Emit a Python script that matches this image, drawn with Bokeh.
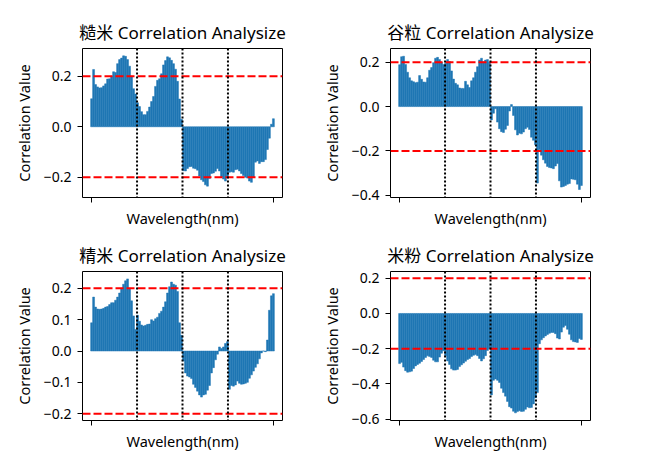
from bokeh.embed import file_html
from bokeh.layouts import gridplot
from bokeh.models import ColumnDataSource, CustomJSTickFormatter, FixedTicker, Range1d, Span
from bokeh.plotting import figure
from bokeh.resources import INLINE

# correlation per wavelength band (92 bands each)
brown_rice = [0.111, 0.227, 0.167, 0.158, 0.154, 0.155, 0.162, 0.17, 0.189, 0.19,
              0.2, 0.218, 0.215, 0.25, 0.266, 0.272, 0.281, 0.279, 0.266, 0.24,
              0.2, 0.151, 0.13, 0.095, 0.08, 0.06, 0.048, 0.048, 0.061, 0.078,
              0.1, 0.12, 0.16, 0.184, 0.19, 0.21, 0.245, 0.262, 0.277, 0.273,
              0.263, 0.25, 0.228, 0.18, 0.11, 0.03, -0.174, -0.175, -0.165, -0.158,
              -0.157, -0.164, -0.166, -0.172, -0.195, -0.21, -0.217, -0.23, -0.235, -0.205,
              -0.185, -0.183, -0.176, -0.165, -0.175, -0.198, -0.207, -0.215, -0.2, -0.18,
              -0.178, -0.18, -0.17, -0.168, -0.175, -0.185, -0.193, -0.2, -0.203, -0.215,
              -0.22, -0.2, -0.14, -0.135, -0.145, -0.138, -0.138, -0.13, -0.09, -0.045,
              0.01, 0.032]
paddy = [0.189, 0.225, 0.227, 0.19, 0.155, 0.13, 0.116, 0.112, 0.108, 0.11,
         0.14, 0.123, 0.111, 0.11, 0.13, 0.164, 0.176, 0.198, 0.218, 0.222,
         0.212, 0.2, 0.19, 0.195, 0.212, 0.203, 0.161, 0.124, 0.105, 0.098,
         0.084, 0.082, 0.082, 0.114, 0.098, 0.086, 0.116, 0.13, 0.155, 0.18,
         0.21, 0.218, 0.202, 0.21, 0.212, 0.2, -0.06, -0.03, -0.01, -0.07,
         -0.1, -0.113, -0.117, -0.102, -0.085, -0.02, 0.009, -0.04, -0.105, -0.128,
         -0.12, -0.123, -0.115, -0.1, -0.093, -0.103, -0.138, -0.152, -0.172, -0.345,
         -0.195, -0.219, -0.24, -0.255, -0.27, -0.275, -0.277, -0.28, -0.268, -0.257,
         -0.335, -0.363, -0.36, -0.356, -0.35, -0.347, -0.326, -0.328, -0.33, -0.35,
         -0.374, -0.356]
milled_rice = [0.09, 0.172, 0.14, 0.134, 0.133, 0.134, 0.136, 0.14, 0.142, 0.148,
               0.154, 0.154, 0.162, 0.172, 0.185, 0.2, 0.213, 0.224, 0.23, 0.2,
               0.16, 0.112, 0.069, 0.114, 0.095, 0.083, 0.08, 0.082, 0.085, 0.086,
               0.1, 0.096, 0.103, 0.108, 0.12, 0.127, 0.14, 0.157, 0.185, 0.205,
               0.22, 0.213, 0.21, 0.19, 0.09, 0.05, -0.032, -0.07, -0.08, -0.083,
               -0.088, -0.106, -0.116, -0.128, -0.14, -0.147, -0.14, -0.138, -0.125, -0.11,
               -0.07, -0.053, -0.028, -0.01, 0.013, 0.008, 0.013, 0.024, 0.03, -0.122,
               -0.11, -0.112, -0.108, -0.096, -0.103, -0.106, -0.105, -0.103, -0.1, -0.087,
               -0.076, -0.064, -0.052, -0.041, -0.025, -0.006, 0.0, -0.002, 0.035, 0.13,
               0.176, 0.183]
rice_flour = [-0.285, -0.278, -0.305, -0.325, -0.334, -0.332, -0.328, -0.313, -0.298, -0.29,
              -0.283, -0.273, -0.262, -0.25, -0.241, -0.245, -0.25, -0.266, -0.275, -0.275,
              -0.248, -0.226, -0.212, -0.24, -0.27, -0.29, -0.315, -0.322, -0.322, -0.318,
              -0.302, -0.292, -0.282, -0.272, -0.262, -0.256, -0.245, -0.238, -0.234, -0.24,
              -0.256, -0.27, -0.258, -0.24, -0.21, -0.2, -0.463, -0.38, -0.372, -0.38,
              -0.392, -0.425, -0.45, -0.47, -0.5, -0.53, -0.538, -0.556, -0.565, -0.558,
              -0.553, -0.557, -0.556, -0.545, -0.532, -0.536, -0.534, -0.514, -0.48, -0.45,
              -0.172, -0.15, -0.138, -0.128, -0.12, -0.113, -0.108, -0.108, -0.115, -0.14,
              -0.145, -0.106, -0.078, -0.068, -0.09, -0.118, -0.15, -0.16, -0.162, -0.165,
              -0.142, -0.148]

names = ["糙米", "谷粒", "精米", "米粉"]
series = [brown_rice, paddy, milled_rice, rice_flour]
y_limits = [(-0.28, 0.31), (-0.41, 0.262), (-0.2216, 0.2536), (-0.6085, 0.2385)]
y_ticks = [[-0.2, 0.0, 0.2], [-0.4, -0.2, 0.0, 0.2],
           [-0.2, -0.1, 0.0, 0.1, 0.2], [-0.6, -0.4, -0.2, 0.0, 0.2]]
threshold = 0.2

FONT = "'Noto Sans', 'Noto Sans CJK SC', sans-serif"

# borders so the frames land where the matplotlib axes are
borders = [dict(min_border_left=82, min_border_right=36, min_border_top=48, min_border_bottom=39),
           dict(min_border_left=64, min_border_right=66, min_border_top=48, min_border_bottom=39),
           dict(min_border_left=82, min_border_right=36, min_border_top=34, min_border_bottom=51),
           dict(min_border_left=64, min_border_right=66, min_border_top=34, min_border_bottom=51)]

plots = []
for k in range(4):
    vals = series[k]
    n = len(vals)
    idx = list(range(n))
    source = ColumnDataSource(data={"band": idx, "corr": vals})
    pad = (n - 1) * 0.05
    p = figure(frame_width=200, frame_height=149, output_backend="svg", toolbar_location=None,
               x_range=Range1d(-pad, n - 1 + pad), y_range=Range1d(*y_limits[k]),
               title=names[k] + " Correlation Analysize", **borders[k])
    # thin outline in the fill colour hides the antialias seams between bars
    p.vbar(x="band", top="corr", bottom=0, width=0.95, source=source,
           fill_color="#1f77b4", line_color="#1f77b4", line_width=0.5)

    for h in [threshold, -threshold]:
        p.add_layout(Span(location=h, dimension="width", line_color="red",
                          line_width=2, line_dash="8 3"))
    for q in [1, 2, 3]:
        p.add_layout(Span(location=(n - 1) * q / 4, dimension="height", line_color="black",
                          line_width=2, line_dash="2 2"))

    p.title.align = "center"
    p.title.text_font = FONT
    p.title.text_font_size = "17px"
    p.title.text_font_style = "normal"
    p.title.text_color = "black"

    p.xgrid.visible = False
    p.ygrid.visible = False
    p.outline_line_color = "black"
    p.outline_line_alpha = 1
    p.outline_line_width = 1

    # two bare ticks at the first and last band, no labels
    p.xaxis.ticker = FixedTicker(ticks=[0, n - 1])
    p.xaxis.major_label_text_font_size = "0px"
    p.xaxis.major_label_text_color = None
    p.xaxis.major_label_standoff = 0
    p.xaxis.axis_label = "Wavelength(nm)"
    p.xaxis.axis_label_standoff = 5
    p.yaxis.ticker = FixedTicker(ticks=y_ticks[k])
    p.yaxis.formatter = CustomJSTickFormatter(code="return tick.toFixed(1).replace('-', '\u2212');")
    p.yaxis.major_label_standoff = 6
    p.yaxis.axis_label = "Correlation Value"
    p.yaxis.axis_label_standoff = 7
    for ax in [p.xaxis[0], p.yaxis[0]]:
        ax.axis_line_color = None
        ax.minor_tick_line_color = None
        ax.major_tick_out = 5
        ax.major_tick_in = 0
        ax.major_tick_line_color = "black"
        ax.axis_label_text_font = FONT
        ax.axis_label_text_font_size = "14.5px"
        ax.axis_label_text_font_style = "normal"
        ax.axis_label_text_color = "black"
    p.yaxis.major_label_text_color = "black"
    p.yaxis.major_label_text_font = FONT
    p.yaxis.major_label_text_font_size = "14px"
    plots.append(p)

grid = gridplot([[plots[0], plots[1]], [plots[2], plots[3]]], toolbar_location=None)

open("out.html", "w").write(file_html(grid, INLINE))
